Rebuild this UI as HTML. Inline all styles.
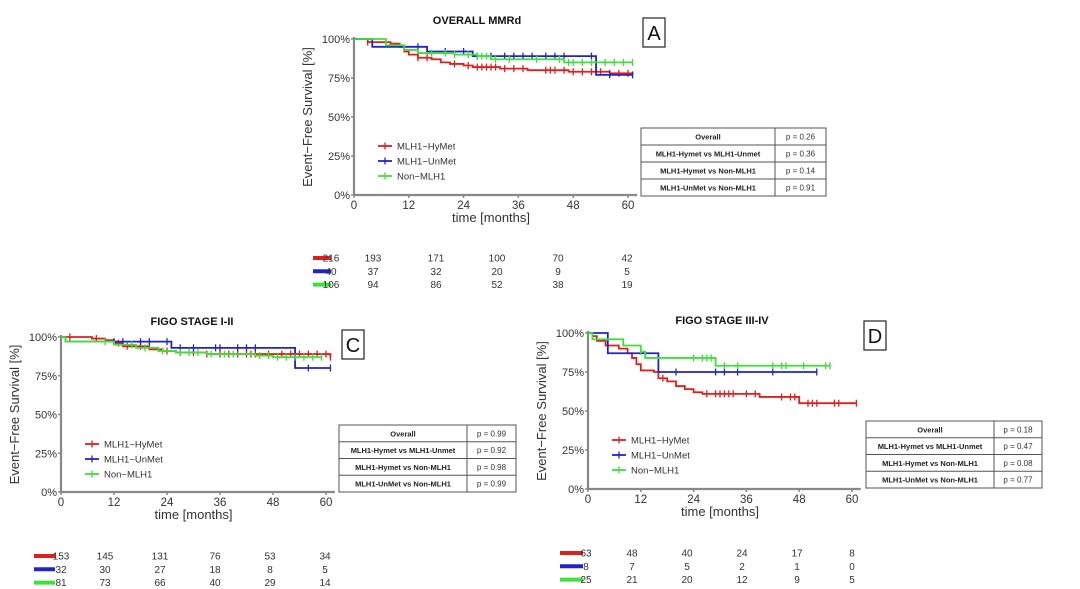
<!DOCTYPE html>
<html><head><meta charset="utf-8">
<style>
body{margin:0;background:#fff;width:1080px;height:589px;overflow:hidden;font-family:"Liberation Sans",sans-serif}
svg{position:absolute;left:0;top:0}
</style></head>
<body>
<svg id="fig" width="1080" height="589" viewBox="0 0 1080 589"></svg>
<script>
// Panel A data (time months, survival %)
const aRedT=[0,3,8,10,11,12,14,17,19,21,24,26,32,38,47,56,61];
const aRedS=[100,98,97,95,92,90,88,87,85,84,83,82,81,80,79,78,77];
const aRedC=[3,14,16,22,25,27,28,29,30,31,33,35,37,42,43,44,46,48,50,52,54,56,58,60];
const aBlueT=[0,4,16,26,53];
const aBlueS=[100,95,92,89,77];
const aBlueC=[14,20,24,27,30,33,35,37,39,42,44,46,52,56,61];
const aGreenT=[0,7,11,14,22,27,30,46];
const aGreenS=[100,96,93,91,90,89,87,85];
const aGreenC=[17,20,22,25,27,28,29,31,34,40,45,47,48,50,52,55,57,59,61];
const aRisk=[[216,193,171,100,70,42],[40,37,32,20,9,5],[106,94,86,52,38,19]];
const aP=["p = 0.26","p = 0.36","p = 0.14","p = 0.91"];
// Panel C data
const cRedT=[0,7,10,12,14,20,23,26,33,61];
const cRedS=[100,99,98,96,94,92,91,90,89,87];
const cRedC=[2,8,13,15,18,24,27,30,33,36,38,40,42,43,44,47,50,52,54,56,58,60,61];
const cBlueT=[0,1,25,53];
const cBlueS=[100,97,93,80];
const cBlueC=[12,14,18,20,24,27,30,35,36,40,42,44,56,61];
const cGreenT=[0,1,12,17,22,26,33,44,48];
const cGreenS=[100,97,95,93,91,90,89,88,87];
const cGreenC=[10,16,19,23,27,29,31,34,37,39,45,47,49,51,53,55,57,59];
const cRisk=[[153,145,131,76,53,34],[32,30,27,18,8,5],[81,73,66,40,29,14]];
const cP=["p = 0.99","p = 0.92","p = 0.98","p = 0.99"];
// Panel D data
const dRedT=[0,1,2,4,7,9,10,11,12,15,16,18,20,22,24,26,39,48];
const dRedS=[100,98,95,92,90,87,84,80,76,75,71,69,66,64,62,61,59,55];
const dRedC=[17,27,29,30,31,32,33,36,38,44,46,47,50,51,52,56,57,61];
const dBlueT=[0,4.5,16];
const dBlueS=[100,87,75];
const dBlueC=[20,29,31,34,42,52];
const dGreenT=[0,1,8,12,13,29];
const dGreenS=[100,96,92,88,84,79];
const dGreenC=[12,24,26,27,28,31,34,42,44,45,49,54,55];
const dRisk=[[63,48,40,24,17,8],[8,7,5,2,1,0],[25,21,20,12,9,5]];
const dP=["p = 0.18","p = 0.47","p = 0.08","p = 0.77"];

const xTicks=[0,12,24,36,48,60];
const yTicks=[0,25,50,75,100];
const seriesNames=["MLH1−HyMet","MLH1−UnMet","Non−MLH1"];
const rowLabels=["Overall","MLH1-Hymet vs MLH1-Unmet","MLH1-Hymet vs Non-MLH1","MLH1-UnMet vs Non-MLH1"];
const colors=["#e0201c","#1f24c8","#3ee03a"];

const NS="http://www.w3.org/2000/svg";
const fig=document.getElementById('fig');
function el(tag,attrs,parent,text){const e=document.createElementNS(NS,tag);for(const k in attrs)e.setAttribute(k,attrs[k]);if(text!==undefined)e.textContent=text;(parent||fig).appendChild(e);return e;}

function panel(cfg){
  const g=el('g',{});
  
  
  const xs=t=>cfg.x0+(cfg.x60-cfg.x0)*t/60;
  const ys=s=>cfg.y0+(cfg.y100-cfg.y0)*s/100;
  const xEnd=xs(62);
  const tt=el('text',{x:cfg.titleX,y:cfg.titleY,'font-size':11,'font-weight':'bold','text-anchor':'middle',fill:'#111'},g,cfg.title);
  
  const lb=el('rect',{x:cfg.box[0],y:cfg.box[1],width:22,height:29,fill:'#fff',stroke:'#222','stroke-width':1.2},g);
  
  el('text',{x:cfg.box[0]+11,y:cfg.box[1]+22,'font-size':20,'text-anchor':'middle',fill:'#111'},g,cfg.id);
  const ax=el('path',{d:`M${cfg.x0} ${ys(100)-2}V${cfg.y0}H${xEnd}`,stroke:'#888',fill:'none','stroke-width':2.2},g);
  
  yTicks.forEach(v=>{
    el('line',{x1:cfg.x0-3,x2:cfg.x0,y1:ys(v),y2:ys(v),stroke:'#888','stroke-width':1.5},g);
    const t=el('text',{x:cfg.x0-4,y:ys(v)+4,'font-size':11,'text-anchor':'end',fill:'#333'},g,v+'%');
    
  });
  xTicks.forEach(v=>{
    el('line',{x1:xs(v),x2:xs(v),y1:cfg.y0,y2:cfg.y0+3,stroke:'#888','stroke-width':1.5},g);
    const t=el('text',{x:xs(v),y:cfg.y0+14,'font-size':11.5,'text-anchor':'middle',fill:'#333'},g,v);
    
  });
  const xl=el('text',{x:(cfg.x0+cfg.x60)/2,y:cfg.y0+27,'font-size':13,'text-anchor':'middle',fill:'#333'},g,'time [months]');
  
  const yx=cfg.x0-42, yy=(cfg.y0+ys(100))/2;
  const yl=el('text',{x:yx,y:yy,'font-size':13,'text-anchor':'middle',fill:'#333',transform:`rotate(-90 ${yx} ${yy})`},g,'Event−Free Survival [%]');
  
  cfg.series.forEach((s,i)=>{
    const [T,S,C]=s;
    let d=`M${xs(T[0])} ${ys(S[0])}`;
    for(let k=1;k<T.length;k++){d+=`H${xs(T[k])}V${ys(S[k])}`;}
    const last=Math.max(T[T.length-1],C.length?C[C.length-1]:0);
    d+=`H${xs(last)}`;
    const p=el('path',{d:d,stroke:colors[i],fill:'none','stroke-width':1.8},g);
    
    C.forEach(c=>{
      let sv=S[0];for(let k=0;k<T.length;k++)if(T[k]<=c)sv=S[k];
      const m=el('line',{x1:xs(c),x2:xs(c),y1:ys(sv)-3.5,y2:ys(sv)+3.5,stroke:colors[i],'stroke-width':1.3},g);
      
    });
  });
  seriesNames.forEach((n,i)=>{
    const ly=cfg.leg[1]+i*15;
    const le=el('g',{},g);
    
    el('line',{x1:cfg.leg[0],x2:cfg.leg[0]+14,y1:ly,y2:ly,stroke:colors[i],'stroke-width':1.8},le);
    el('line',{x1:cfg.leg[0]+7,x2:cfg.leg[0]+7,y1:ly-3.5,y2:ly+3.5,stroke:colors[i],'stroke-width':1.3},le);
    el('text',{x:cfg.leg[0]+19,y:ly+3.5,'font-size':9.5,fill:'#333'},le,n);
  });
  const [tx,ty,tw,th,td]=cfg.table;
  const tb=el('g',{},g);
  
  el('rect',{x:tx,y:ty,width:tw,height:th,fill:'#fff',stroke:'#555','stroke-width':1},tb);
  el('line',{x1:td,x2:td,y1:ty,y2:ty+th,stroke:'#555'},tb);
  const rh=th/4;
  for(let r=0;r<4;r++){
    if(r>0)el('line',{x1:tx,x2:tx+tw,y1:ty+r*rh,y2:ty+r*rh,stroke:'#555'},tb);
    el('text',{x:(tx+td)/2,y:ty+r*rh+rh/2+3,'font-size':7.5,'font-weight':'bold','text-anchor':'middle',fill:'#222'},tb,rowLabels[r]);
    el('text',{x:(td+tx+tw)/2,y:ty+r*rh+rh/2+3,'font-size':8,'text-anchor':'middle',fill:'#333'},tb,cfg.p[r]);
  }
  cfg.risk.forEach((row,i)=>{
    const ry=cfg.riskY+i*13.3;
    const rg=el('g',{},g);
    
    el('line',{x1:cfg.riskBar[0],x2:cfg.riskBar[1],y1:ry,y2:ry,stroke:colors[i],'stroke-width':4},rg);
    row.forEach((v,j)=>{
      el('text',{x:cfg.riskX[j],y:ry+3.5,'font-size':10,'text-anchor':'middle',fill:'#333'},rg,v);
    });
  });
}

panel({id:'A',title:'OVERALL MMRd',titleX:477,titleY:24,box:[643,18],x0:354,x60:628,y0:195,y100:39,
  series:[[aRedT,aRedS,aRedC],[aBlueT,aBlueS,aBlueC],[aGreenT,aGreenS,aGreenC]],
  leg:[378,146],table:[641,128,185,68,775],p:aP,risk:aRisk,riskY:258,riskBar:[313,331],
  riskX:[331,373,436,497,558,627]});
panel({id:'C',title:'FIGO STAGE I-II',titleX:192,titleY:325,box:[342,330],x0:61,x60:326,y0:492,y100:337,
  series:[[cRedT,cRedS,cRedC],[cBlueT,cBlueS,cBlueC],[cGreenT,cGreenS,cGreenC]],
  leg:[85,444],table:[339,425,177,67,467],p:cP,risk:cRisk,riskY:556,riskBar:[34,55],
  riskX:[61,105,160,215,270,325]});
panel({id:'D',title:'FIGO STAGE III-IV',titleX:722,titleY:324,box:[864,321],x0:588,x60:852,y0:489,y100:333,
  series:[[dRedT,dRedS,dRedC],[dBlueT,dBlueS,dBlueC],[dGreenT,dGreenS,dGreenC]],
  leg:[612,440],table:[866,421,176,67,994],p:dP,risk:dRisk,riskY:553,riskBar:[560,583],
  riskX:[586,632,687,742,797,852]});
</script>
</body></html>
